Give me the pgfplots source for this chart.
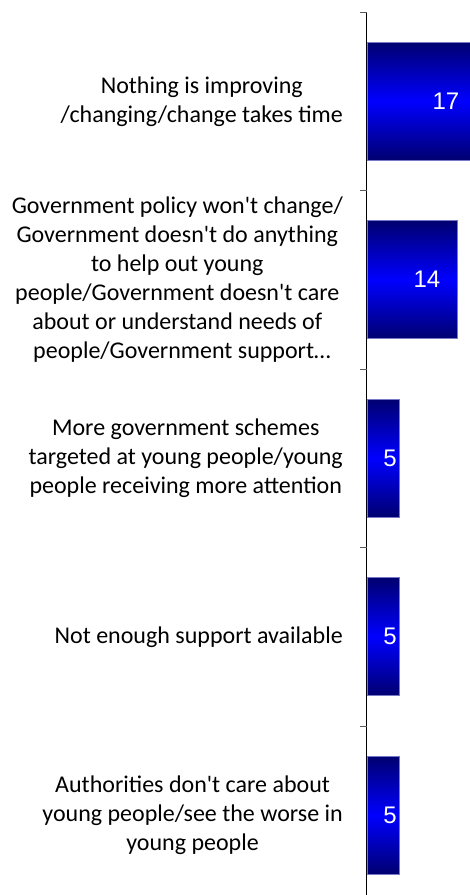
\documentclass[border=0pt]{standalone}
\usepackage{pgfplots}
\pgfplotsset{compat=1.18}
\usepackage{fontspec}
\setmainfont{Carlito}[Ligatures=TeXOff]
\newfontfamily\arial{Liberation Sans}
\definecolor{navy}{RGB}{0,0,112}
\definecolor{brightblue}{RGB}{0,0,255}
\definecolor{barborder}{RGB}{120,120,200}
\definecolor{tickgray}{RGB}{89,89,89}
\begin{document}
\begin{tikzpicture}
\path[use as bounding box] (-367bp,0) rectangle (103bp,895bp);
\begin{axis}[
  at={(0,0)}, anchor=south west,
  scale only axis,
  width=103bp, height=883bp,
  xmin=0, xmax=15.97,
  ymin=-0.5, ymax=4.447,
  y dir=reverse,
  axis x line=none,
  axis y line*=left,
  y axis line style={black, line width=1bp},
  ytick={0,1,2,3,4},
  yticklabels={
    {Nothing is improving\\/changing/change takes time},
    {Government policy won't change/\\Government doesn't do anything\\to help out young\\people/Government doesn't care\\about or understand needs of\\\ \,people/Government support…},
    {More government schemes\\targeted at young people/young\\people receiving more attention},
    {Not enough support available},
    {Authorities don't care about\\young people/see the worse in\\young people}
  },
  major tick length=0pt,
  tick align=outside,
  yticklabel style={align=center, anchor=east, inner sep=0pt, xshift=-24bp,
    font=\fontsize{24bp}{29bp}\selectfont, text=black},
  extra y ticks={-0.5,0.5,1.5,2.5,3.5},
  extra y tick labels={},
  extra y tick style={major tick length=7bp, tick style={tickgray, line width=0.8bp}},
  gbar/.style={xbar, bar width=0.661, bar shift=0pt, draw=barborder, line width=0.6bp,
    top color=navy, bottom color=navy, middle color=brightblue},
]
\addplot[gbar] coordinates {(17,0)};
\addplot[gbar] coordinates {(14,1)};
\addplot[gbar] coordinates {(5,2)};
\addplot[gbar] coordinates {(5,3)};
\addplot[gbar] coordinates {(5,4)};
\addplot[draw=none, mark=none, nodes near coords, nodes near coords align=center,
  point meta=explicit symbolic,
  every node near coord/.style={text=white, anchor=center, font=\arial\fontsize{24bp}{29bp}\selectfont}]
  coordinates {(12.25,0)[17] (9.3,1)[14] (3.57,2)[5] (3.57,3)[5] (3.57,4)[5]};
\end{axis}
\end{tikzpicture}
\end{document}
